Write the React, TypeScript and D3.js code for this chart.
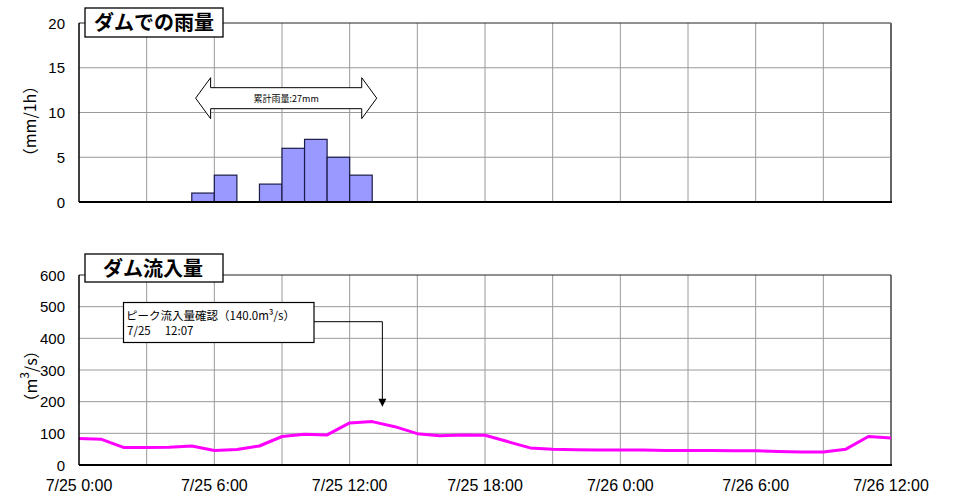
import React from "react";
import * as d3 from "d3";

// ---- data ----
const rainStartHours = [5, 6, 8, 9, 10, 11, 12];
const rainValues = [1, 3, 2, 6, 7, 5, 3];
const inflowValues = [
  84, 81, 55, 55, 56, 60, 46, 49, 60, 90, 97, 95, 133, 137, 121, 99, 92, 95, 94,
  74, 54, 50, 48, 47, 47, 47, 46, 46, 46, 45, 45, 43, 41, 41, 50, 90, 85,
];
const xTickHours = [0, 6, 12, 18, 24, 30, 36];
const xTickLabels = ["7/25 0:00", "7/25 6:00", "7/25 12:00", "7/25 18:00", "7/26 0:00", "7/26 6:00", "7/26 12:00"];
const gridHours = [3, 6, 9, 12, 15, 18, 21, 24, 27, 30, 33];
const rainTicks = [0, 5, 10, 15, 20];
const inflowTicks = [0, 100, 200, 300, 400, 500, 600];
const rainTitle = "ダムでの雨量";
const inflowTitle = "ダム流入量";
const rainNote = "累計雨量:27mm";
const peakLine1 = "ピーク流入量確認（140.0m³/s）";
const peakLine2 = "7/25\u3000 12:07";
const rainArrowSpan = [5.17, 13.2];
const rainArrowValue = 11.6;
const peakPointer = { hour: 13.45, value: 184 };

const JP = "'Noto Sans CJK JP', sans-serif";
const SANS = "'Liberation Sans', Arial, sans-serif";

export default function App() {
  const W = 959, H = 496;
  const x = d3.scaleLinear().domain([0, 36]).range([79, 891]);
  const yR = d3.scaleLinear().domain([0, 20]).range([202, 23]);
  const yI = d3.scaleLinear().domain([0, 600]).range([465, 275]);
  const grid = "#9a9a9a";

  const line = d3
    .line<number>()
    .x((_, i) => x(i))
    .y((d) => yI(d));

  // rain arrow
  const ax0 = x(rainArrowSpan[0]);
  const ax1 = x(rainArrowSpan[1]);
  const ay = yR(rainArrowValue);
  const head = 15;
  const shaftH = 10.5;
  const headH = 20.5;
  const arrowPts = [
    [ax0, ay],
    [ax0 + head, ay - headH],
    [ax0 + head, ay - shaftH],
    [ax1 - head, ay - shaftH],
    [ax1 - head, ay - headH],
    [ax1, ay],
    [ax1 - head, ay + headH],
    [ax1 - head, ay + shaftH],
    [ax0 + head, ay + shaftH],
    [ax0 + head, ay + headH],
  ]
    .map((p) => p.join(","))
    .join(" ");

  const px = x(peakPointer.hour);
  const py = yI(peakPointer.value);

  return (
    <svg
      width={W}
      height={H}
      style={{ position: "absolute", left: 0, top: 0, background: "#fff" }}
    >
      <rect x={0} y={0} width={W} height={H} fill="#fff" />

      {/* ===== top chart ===== */}
      {rainTicks.slice(1, -1).map((t) => (
        <line key={"rg" + t} x1={x(0)} x2={x(36)} y1={yR(t)} y2={yR(t)} stroke={grid} strokeWidth={1} />
      ))}
      {gridHours.map((h) => (
        <line key={"rv" + h} x1={x(h)} x2={x(h)} y1={yR(20)} y2={yR(0)} stroke={grid} strokeWidth={1} />
      ))}
      {rainValues.map((v, i) => (
        <rect
          key={"b" + i}
          x={x(rainStartHours[i])}
          y={yR(v)}
          width={x(rainStartHours[i] + 1) - x(rainStartHours[i])}
          height={yR(0) - yR(v)}
          fill="#9999FF"
          stroke="#1c1c48"
          strokeWidth={1.2}
        />
      ))}
      <line x1={x(0)} x2={x(36)} y1={yR(20)} y2={yR(20)} stroke="#222" strokeWidth={1} />
      <line x1={x(36)} x2={x(36)} y1={yR(20)} y2={yR(0)} stroke="#666" strokeWidth={2} />
      <line x1={x(0)} x2={x(0)} y1={yR(20)} y2={yR(0)} stroke="#000" strokeWidth={1.5} />
      <line x1={x(0)} x2={x(36) + 1} y1={yR(0)} y2={yR(0)} stroke="#000" strokeWidth={2} />
      {rainTicks.map((t) => (
        <text key={"rt" + t} x={65} y={yR(t) + 5.5} textAnchor="end" fontFamily={SANS} fontSize={15} fill="#000">
          {t}
        </text>
      ))}
      <text
        transform={`translate(36,${121}) rotate(-90)`}
        textAnchor="middle"
        fontFamily={JP}
        fontSize={16}
        fill="#000"
      >
        （mm/1h）
      </text>
      <polygon points={arrowPts} fill="#fff" stroke="#000" strokeWidth={1} />
      <text x={(ax0 + ax1) / 2} y={ay + 3.5} textAnchor="middle" fontFamily={JP} fontSize={9} fill="#000">
        {rainNote}
      </text>
      <rect x={85} y={8} width={138} height={29} fill="#fff" stroke="#000" strokeWidth={1.3} />
      <text x={154} y={30} textAnchor="middle" fontFamily={JP} fontSize={20} fontWeight="bold" fill="#000">
        {rainTitle}
      </text>

      {/* ===== bottom chart ===== */}
      {inflowTicks.slice(1, -1).map((t) => (
        <line key={"ig" + t} x1={x(0)} x2={x(36)} y1={yI(t)} y2={yI(t)} stroke={grid} strokeWidth={1} />
      ))}
      {gridHours.map((h) => (
        <line key={"iv" + h} x1={x(h)} x2={x(h)} y1={yI(600)} y2={yI(0)} stroke={grid} strokeWidth={1} />
      ))}
      <line x1={x(0)} x2={x(36)} y1={yI(600)} y2={yI(600)} stroke="#222" strokeWidth={1} />
      <line x1={x(36)} x2={x(36)} y1={yI(600)} y2={yI(0)} stroke="#444" strokeWidth={1.5} />
      <path d={line(inflowValues) || ""} fill="none" stroke="#FF00FF" strokeWidth={3} strokeLinejoin="round" />
      <line x1={x(0)} x2={x(0)} y1={yI(600)} y2={yI(0)} stroke="#000" strokeWidth={1.5} />
      <line x1={x(0)} x2={x(36) + 1} y1={yI(0)} y2={yI(0)} stroke="#000" strokeWidth={2} />
      {inflowTicks.map((t) => (
        <text key={"it" + t} x={65} y={yI(t) + 5.5} textAnchor="end" fontFamily={SANS} fontSize={15} fill="#000">
          {t}
        </text>
      ))}
      {xTickHours.map((h, i) => (
        <text key={"xt" + h} x={x(h)} y={491} textAnchor="middle" fontFamily={SANS} fontSize={16} fill="#000">
          {xTickLabels[i]}
        </text>
      ))}
      <text
        transform={`translate(37,${376}) rotate(-90)`}
        textAnchor="middle"
        fontFamily={JP}
        fontSize={16}
        fill="#000"
      >
        （m<tspan baselineShift="super" fontSize={12}>3</tspan>/s）
      </text>

      {/* peak callout */}
      <polyline
        points={`314,${321.7} ${px},${321.7} ${px},${py - 7}`}
        fill="none"
        stroke="#000"
        strokeWidth={1}
      />
      <polygon points={`${px - 4},${py - 8} ${px + 4},${py - 8} ${px},${py}`} fill="#000" />
      <rect x={123.5} y={302.5} width={190.5} height={40} fill="#fff" stroke="#000" strokeWidth={1.2} />
      <text x={126} y={319.5} fontFamily={JP} fontSize={11.5} fill="#000">
        {peakLine1}
      </text>
      <text x={127} y={335} fontFamily={JP} fontSize={11.5} fill="#000">
        {peakLine2}
      </text>
      <rect x={85} y={254} width={138} height={28} fill="#fff" stroke="#000" strokeWidth={1.3} />
      <text x={153} y={276} textAnchor="middle" fontFamily={JP} fontSize={20} fontWeight="bold" fill="#000">
        {inflowTitle}
      </text>
    </svg>
  );
}
